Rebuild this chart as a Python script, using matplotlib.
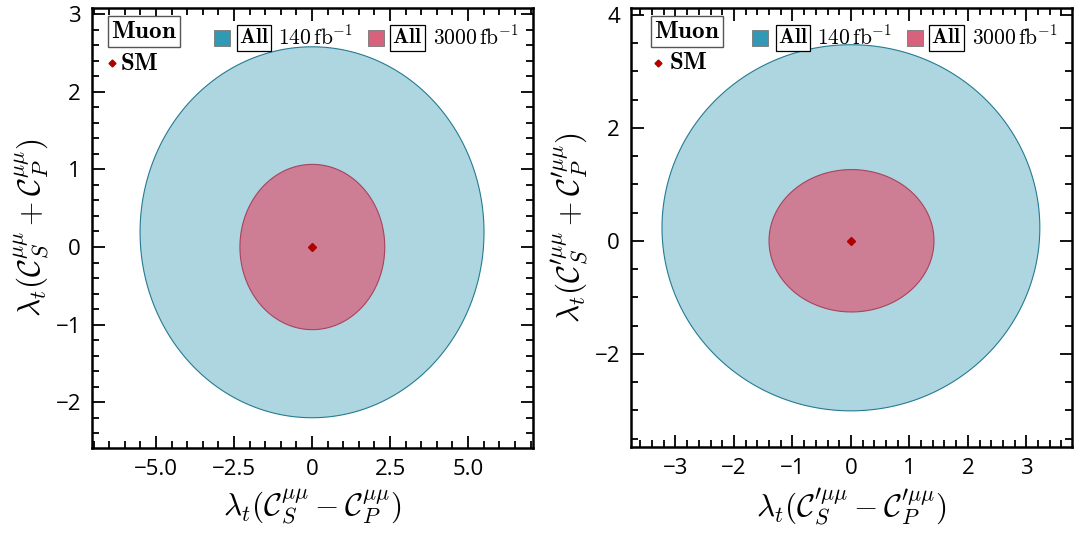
import numpy as np
import matplotlib
matplotlib.use("Agg")
import matplotlib.pyplot as plt
from matplotlib.patches import Rectangle
from matplotlib.colors import to_rgba
from matplotlib.ticker import MultipleLocator, FuncFormatter

plt.rcParams["mathtext.fontset"] = "cm"
plt.rcParams["font.family"] = ["Open Sans", "DejaVu Sans"]

# 68% CL regions: centre (x, y) and semi-axes (a, b) for each luminosity
lumi_labels = [r"$140\,\mathrm{fb}^{-1}$", r"$3000\,\mathrm{fb}^{-1}$"]

left_centres = [(0.0, 0.19), (0.01, 0.0)]
left_axes_ab = [(5.51, 2.39), (2.32, 1.065)]

right_centres = [(0.0, 0.23), (0.01, 0.0)]
right_axes_ab = [(3.23, 3.24), (1.41, 1.26)]

sm_point = (0.0, 0.0)

left_xlim = (-7.05, 7.08)
left_ylim = (-2.59, 3.08)
right_xlim = (-3.76, 3.78)
right_ylim = (-3.65, 4.12)

fill_colors = ["#3299b4", "#d8617b"]
fill_alpha = [0.4, 0.75]
edge_colors = ["#257b92", "#a8435d"]
sm_color = "#b00000"

fig = plt.figure(figsize=(10.76, 5.36), dpi=100)
ax1 = fig.add_axes([92 / 1076, 88 / 536, 441 / 1076, 440 / 536])
ax2 = fig.add_axes([631 / 1076, 89 / 536, 441 / 1076, 439 / 536])

t = np.linspace(0, 2 * np.pi, 400)


def int_fmt(v, p):
    return f"{int(round(v))}".replace("-", "\u2212")


def half_fmt(v, p):
    return "0" if abs(v) < 1e-9 else f"{v:.1f}".replace("-", "\u2212")


def draw_panel(ax, centres, axes_ab, xlim, ylim, xmaj, xmin, ymaj, ymin,
               xlabel, ylabel, xfmt, yfmt, muon_x, sm_x, smtxt_x):
    for (cx, cy), (a, b), fc, al, ec in zip(centres, axes_ab, fill_colors,
                                            fill_alpha, edge_colors):
        ax.fill(cx + a * np.cos(t), cy + b * np.sin(t),
                facecolor=to_rgba(fc, al), edgecolor=ec, lw=0.8,
                joinstyle="round", zorder=2)
    ax.plot([sm_point[0]], [sm_point[1]], marker="D", ms=4.5, color=sm_color,
            ls="none", zorder=4)
    ax.set_xlim(*xlim)
    ax.set_ylim(*ylim)
    ax.xaxis.set_major_locator(MultipleLocator(xmaj))
    ax.xaxis.set_minor_locator(MultipleLocator(xmin))
    ax.yaxis.set_major_locator(MultipleLocator(ymaj))
    ax.yaxis.set_minor_locator(MultipleLocator(ymin))
    ax.xaxis.set_major_formatter(FuncFormatter(xfmt))
    ax.yaxis.set_major_formatter(FuncFormatter(yfmt))
    ax.tick_params(which="both", direction="in", top=True, right=True,
                   labelsize=16, width=1.3)
    ax.tick_params(which="major", length=9, pad=8)
    ax.tick_params(which="minor", length=5)
    for s in ax.spines.values():
        s.set_linewidth(1.8)
    ax.set_xlabel(xlabel, fontsize=22.5, labelpad=5)
    ax.set_ylabel(ylabel, fontsize=22.5, labelpad=3)

    # annotation block
    ax.text(muon_x, 0.975, r"$\mathbf{Muon}$", transform=ax.transAxes,
            fontsize=18, va="top", ha="left",
            bbox=dict(boxstyle="square,pad=0.12", fc="white", ec="#555555",
                      lw=1.0))
    ax.plot([sm_x], [0.875], marker="D", ms=3.5, color=sm_color,
            transform=ax.transAxes, ls="none", clip_on=False)
    ax.text(smtxt_x, 0.875, r"$\mathbf{SM}$", transform=ax.transAxes,
            fontsize=18, va="center", ha="left")


draw_panel(ax1, left_centres, left_axes_ab, left_xlim, left_ylim,
           2.5, 0.5, 1, 0.2,
           r"$\lambda_t(\mathcal{C}_S^{\mu\mu} - \mathcal{C}_P^{\mu\mu})$",
           r"$\lambda_t(\mathcal{C}_S^{\mu\mu} + \mathcal{C}_P^{\mu\mu})$",
           half_fmt, int_fmt, 0.043, 0.046, 0.063)
draw_panel(ax2, right_centres, right_axes_ab, right_xlim, right_ylim,
           1, 0.2, 2, 0.5,
           r"$\lambda_t(\mathcal{C}_S^{\prime\mu\mu} - \mathcal{C}_P^{\prime\mu\mu})$",
           r"$\lambda_t(\mathcal{C}_S^{\prime\mu\mu} + \mathcal{C}_P^{\prime\mu\mu})$",
           int_fmt, int_fmt, 0.052, 0.062, 0.086)


def legend_row(ax, x0s):
    # coloured square, boxed "All", luminosity
    for (xs, xa, xl), fc, lab in zip(x0s, fill_colors, lumi_labels):
        ax.add_patch(Rectangle((xs, 0.914), 0.036, 0.036, transform=ax.transAxes,
                               facecolor=fc, edgecolor="#777777", lw=0.6,
                               clip_on=False, zorder=5))
        ax.text(xa, 0.932, r"$\mathbf{All}$", transform=ax.transAxes,
                fontsize=15.5, va="center", ha="left",
                bbox=dict(boxstyle="square,pad=0.1", fc="white", ec="black",
                          lw=0.9))
        ax.text(xl, 0.932, lab, transform=ax.transAxes, fontsize=15.5,
                va="center", ha="left")


legend_row(ax1, [(0.277, 0.333, 0.421), (0.626, 0.681, 0.773)])
legend_row(ax2, [(0.275, 0.333, 0.421), (0.626, 0.681, 0.773)])

fig.savefig("out.png", dpi=100)
